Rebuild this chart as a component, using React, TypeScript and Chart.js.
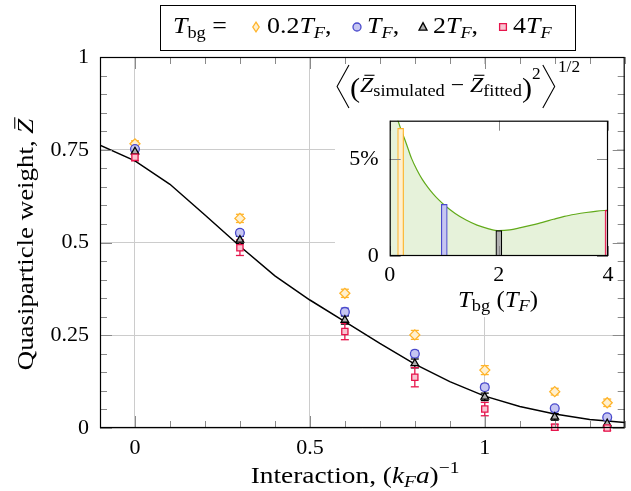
import React, { useEffect, useRef } from "react";
import { Chart, registerables } from "chart.js";
Chart.register(...registerables);

const FF = "'Liberation Serif', 'Times New Roman', serif";

// ---------- main panel data ----------
const interaction = [0, 0.3, 0.6, 0.8, 1.0, 1.2, 1.35];
const zBg02 = [0.766, 0.565, 0.363, 0.251, 0.156, 0.098, 0.068];
const errBg02 = [0.008, 0.011, 0.011, 0.012, 0.012, 0.009, 0.01];
const zBg1 = [0.752, 0.526, 0.313, 0.2, 0.11, 0.053, 0.029];
const errBg1 = [0.007, 0.008, 0.01, 0.009, 0.008, 0.007, 0.007];
const zBg2 = [0.745, 0.507, 0.291, 0.174, 0.084, 0.03, 0.012];
const errBg2 = [0.008, 0.01, 0.011, 0.012, 0.01, 0.009, 0.009];
const zBg4 = [0.73, 0.486, 0.26, 0.137, 0.051, 0.002, 0.0];
const errBg4 = [0.01, 0.021, 0.022, 0.026, 0.018, 0.008, 0.007];

const fitInteraction = [-0.1, 0, 0.1, 0.2, 0.3, 0.4, 0.5, 0.6, 0.7, 0.8, 0.9, 1.0, 1.1, 1.2, 1.3, 1.4];
const fitZ = [0.762, 0.72, 0.657, 0.574, 0.49, 0.41, 0.345, 0.287, 0.228, 0.172, 0.125, 0.086, 0.058, 0.038, 0.023, 0.015];

const xTickValues = [0, 0.5, 1];
const xTickLabels = ["0", "0.5", "1"];
const yTickValues = [0, 0.25, 0.5, 0.75, 1];
const yTickLabels = ["0", "0.25", "0.5", "0.75", "1"];

const tbgLegendLabels = ["0.2", "", "2", "4"];

// ---------- inset data ----------
const tbg = [0, 0.1, 0.2, 0.3, 0.4, 0.5, 0.6, 0.7, 0.8, 0.9, 1.0, 1.2, 1.4, 1.6, 1.8, 2.0, 2.2, 2.4, 2.6, 2.8, 3.0, 3.2, 3.4, 3.6, 3.8, 4.0];
const rmsPercent = [8.3, 7.45, 6.6, 5.85, 5.05, 4.45, 3.95, 3.55, 3.2, 2.9, 2.64, 2.2, 1.86, 1.6, 1.42, 1.31, 1.35, 1.47, 1.6, 1.74, 1.9, 2.05, 2.16, 2.25, 2.32, 2.37];
const barTbg = [0.2, 1, 2, 4];
const barRms = [6.6, 2.67, 1.31, 2.36];
const insetXTicks = [0, 2, 4];
const insetXLabels = ["0", "2", "4"];
const insetYTicks = [0, 5];
const insetYLabels = ["0", "5%"];

const C = {
  orange: { line: "#ffb42a", fill: "#fff0cf" },
  blue: { line: "#4a4acc", fill: "#c6c6f2" },
  black: { line: "#000000", fill: "#b0b0b0" },
  red: { line: "#e6154c", fill: "#f9c3d1" },
};

const series = [
  { ys: zBg02, errs: errBg02, style: "rectRot", c: C.orange, order: 4 },
  { ys: zBg1, errs: errBg1, style: "circle", c: C.blue, order: 3 },
  { ys: zBg2, errs: errBg2, style: "triangle", c: C.black, order: 2 },
  { ys: zBg4, errs: errBg4, style: "rect", c: C.red, order: 1 },
];

type Part = { t?: string; it?: boolean; sz?: number; dy?: number; bar?: boolean; w?: number; fn?: (ctx: CanvasRenderingContext2D, x: number, dy: number) => void };

function partFont(p: Part, base: number) {
  return `${p.it ? "italic " : ""}${p.sz ?? base}px ${FF}`;
}
function measureParts(ctx: CanvasRenderingContext2D, parts: Part[], base: number) {
  let w = 0;
  for (const p of parts) {
    if (p.fn) w += p.w || 0;
    else {
      ctx.font = partFont(p, base);
      w += ctx.measureText(p.t || "").width;
    }
  }
  return w;
}
function drawRich(ctx: CanvasRenderingContext2D, parts: Part[], x: number, y: number, base: number, align = "left", hs = 1.08) {
  ctx.save();
  const total = measureParts(ctx, parts, base) * hs;
  const sx = align === "center" ? x - total / 2 : align === "right" ? x - total : x;
  ctx.translate(sx, y);
  ctx.scale(hs, 1);
  ctx.fillStyle = "#000";
  ctx.strokeStyle = "#000";
  ctx.textBaseline = "alphabetic";
  ctx.textAlign = "left";
  let cx = 0;
  for (const p of parts) {
    if (p.fn) {
      p.fn(ctx, cx, p.dy ?? 0);
      cx += p.w || 0;
      continue;
    }
    const sz = p.sz ?? base;
    ctx.font = partFont(p, base);
    const w = ctx.measureText(p.t || "").width;
    ctx.fillText(p.t || "", cx, p.dy ?? 0);
    if (p.bar) {
      ctx.lineWidth = 1.1;
      const by = (p.dy ?? 0) - sz * 0.76;
      ctx.beginPath();
      ctx.moveTo(cx + sz * 0.18, by);
      ctx.lineTo(cx + w + sz * 0.05, by);
      ctx.stroke();
    }
    cx += w;
  }
  ctx.restore();
}

function drawMarker(ctx: CanvasRenderingContext2D, kind: string, x: number, y: number, r: number, c: { line: string; fill: string }) {
  ctx.save();
  ctx.beginPath();
  if (kind === "rectRot") {
    ctx.moveTo(x, y - r * 1.2);
    ctx.lineTo(x + r * 0.8, y);
    ctx.lineTo(x, y + r * 1.2);
    ctx.lineTo(x - r * 0.8, y);
    ctx.closePath();
  } else if (kind === "circle") {
    ctx.arc(x, y, r, 0, Math.PI * 2);
  } else if (kind === "triangle") {
    ctx.moveTo(x, y - r * 1.1);
    ctx.lineTo(x + r, y + r * 0.8);
    ctx.lineTo(x - r, y + r * 0.8);
    ctx.closePath();
  } else {
    ctx.rect(x - r * 0.85, y - r * 0.85, r * 1.7, r * 1.7);
  }
  ctx.fillStyle = c.fill;
  ctx.fill();
  ctx.lineWidth = 1.3;
  ctx.strokeStyle = c.line;
  ctx.stroke();
  ctx.restore();
}

function line(ctx: CanvasRenderingContext2D, x1: number, y1: number, x2: number, y2: number) {
  ctx.beginPath();
  ctx.moveTo(x1, y1);
  ctx.lineTo(x2, y2);
  ctx.stroke();
}

const INSET_LEFT = 335;
const INSET_TOP = 57;

const mainPlugin = {
  id: "mainDecor",
  beforeDatasetsDraw(chart: any) {
    const { ctx, scales } = chart;
    const x = scales.x, y = scales.y;
    ctx.save();
    // white backdrop of the inset (covers grid, lies under the data)
    ctx.fillStyle = "#ffffff";
    ctx.fillRect(INSET_LEFT, 64, 282, 253);
    ctx.lineWidth = 1.3;
    for (const s of series) {
      ctx.strokeStyle = s.c.line;
      interaction.forEach((xv, i) => {
        const px = x.getPixelForValue(xv);
        const top = y.getPixelForValue(s.ys[i] + s.errs[i]);
        const bot = y.getPixelForValue(s.ys[i] - s.errs[i]);
        line(ctx, px, top, px, bot);
        line(ctx, px - 4, top, px + 4, top);
        line(ctx, px - 4, bot, px + 4, bot);
      });
    }
    ctx.restore();
  },
  afterDraw(chart: any) {
    const { ctx, chartArea: a, scales } = chart;
    const x = scales.x, y = scales.y;
    ctx.save();
    ctx.strokeStyle = "#8a8a8a";
    ctx.lineWidth = 1;
    for (let i = -1; i <= 14; i++) {
      const px = Math.round(x.getPixelForValue(i / 10)) + 0.5;
      const L = i % 5 === 0 ? 12 : 7;
      line(ctx, px, a.bottom, px, a.bottom - L);
      line(ctx, px, a.top, px, a.top + L);
    }
    for (let i = 0; i <= 20; i++) {
      const py = Math.round(y.getPixelForValue(i / 20)) + 0.5;
      const L = i % 5 === 0 ? 12 : 7;
      line(ctx, a.left, py, a.left + L, py);
      line(ctx, a.right, py, a.right - L, py);
    }
    ctx.strokeStyle = "#000";
    ctx.lineWidth = 1.2;
    ctx.strokeRect(a.left + 0.5, a.top + 0.5, a.right - a.left - 1, a.bottom - a.top - 1);

    // legend
    ctx.lineWidth = 1;
    ctx.strokeRect(160.5, 5.5, 415, 45);
    const base = 24;
    const ly = 33;
    const sub = (t: string, it = false): Part => ({ t, it, sz: 17, dy: 5 });
    drawRich(ctx, [{ t: "T", it: true }, sub("bg"), { t: " = " }], 173, ly, base);
    const groupX = [267, 367, 433, 513];
    const markerX = [256, 357, 423, 503];
    series.forEach((s, i) => {
      drawMarker(ctx, s.style, markerX[i], 27, 4, s.c);
      const parts: Part[] = [];
      if (tbgLegendLabels[i]) parts.push({ t: tbgLegendLabels[i] });
      parts.push({ t: "T", it: true }, sub("F", true));
      if (i < series.length - 1) parts.push({ t: "," });
      drawRich(ctx, parts, groupX[i], ly, base);
    });

    // axis titles
    drawRich(ctx, [
      { t: "Interaction, (" },
      { t: "k", it: true },
      { t: "F", it: true, sz: 17, dy: 4 },
      { t: "a", it: true },
      { t: ")" },
      { t: "\u22121", sz: 17, dy: -10 },
    ], 355, 483, 24, "center", 1.14);

    ctx.save();
    ctx.translate(33, 244.5);
    ctx.rotate(-Math.PI / 2);
    drawRich(ctx, [{ t: "Quasiparticle weight, " }, { t: "Z", it: true, bar: true }], 0, 0, 24, "center", 1.12);
    ctx.restore();
    ctx.restore();
  },
};

const insetPlugin = {
  id: "insetDecor",
  afterDraw(chart: any) {
    const { ctx, chartArea: a, scales } = chart;
    const x = scales.x, y = scales.y;
    ctx.save();
    ctx.strokeStyle = "#8a8a8a";
    ctx.lineWidth = 1;
    for (const v of insetXTicks) {
      const px = Math.round(x.getPixelForValue(v)) + 0.5;
      line(ctx, px, a.bottom, px, a.bottom - 10);
      line(ctx, px, a.top, px, a.top + 10);
    }
    for (const v of insetYTicks) {
      const py = Math.round(y.getPixelForValue(v)) + 0.5;
      line(ctx, a.left, py, a.left + 11, py);
      line(ctx, a.right, py, a.right - 11, py);
    }
    ctx.strokeStyle = "#000";
    ctx.lineWidth = 1.2;
    ctx.strokeRect(a.left + 0.5, a.top + 0.5, a.right - a.left - 1, a.bottom - a.top - 1);

    // x title
    drawRich(ctx, [
      { t: "T", it: true },
      { t: "bg", sz: 17, dy: 4 },
      { t: " (" },
      { t: "T", it: true },
      { t: "F", it: true, sz: 17, dy: 4 },
      { t: ")" },
    ], 498 - INSET_LEFT, 307 - INSET_TOP, 23, "center");

    // inset title
    const bracketL = (c: CanvasRenderingContext2D, bx: number) => {
      c.lineWidth = 1;
      c.beginPath();
      c.moveTo(bx + 12, -27);
      c.lineTo(bx + 1, -5.5);
      c.lineTo(bx + 12, 16);
      c.stroke();
    };
    const bracketR = (c: CanvasRenderingContext2D, bx: number) => {
      c.lineWidth = 1;
      c.beginPath();
      c.moveTo(bx + 2, -27);
      c.lineTo(bx + 13, -5.5);
      c.lineTo(bx + 2, 16);
      c.stroke();
    };
    drawRich(ctx, [
      { fn: bracketL, w: 13 },
      { t: "(", sz: 28, dy: 4.5 },
      { t: "Z", it: true, bar: true },
      { t: "simulated", sz: 17, dy: 4 },
      { t: " \u2212 " },
      { t: "Z", it: true, bar: true },
      { t: "fitted", sz: 17, dy: 4 },
      { t: ")", sz: 28, dy: 4.5 },
      { t: "2", sz: 16, dy: -13 },
      { fn: bracketR, w: 16 },
      { t: "1/2", sz: 16, dy: -20 },
    ], 336 - INSET_LEFT, 92 - INSET_TOP, 22, "left");
    ctx.restore();
  },
};

export default function App() {
  const mainRef = useRef<HTMLCanvasElement>(null);
  const insetRef = useRef<HTMLCanvasElement>(null);

  useEffect(() => {
    const tickFont = { family: FF, size: 22 };
    const main = new Chart(mainRef.current as HTMLCanvasElement, {
      type: "scatter",
      data: {
        datasets: [
          {
            type: "line",
            data: fitInteraction.map((v, i) => ({ x: v, y: fitZ[i] })),
            borderColor: "#000",
            borderWidth: 1.5,
            pointRadius: 0,
            showLine: true,
            fill: false,
            order: 10,
          } as any,
          ...series.map((s) => ({
            data: interaction.map((v, i) => ({ x: v, y: s.ys[i] })),
            pointStyle: s.style,
            pointRadius: s.style === "rectRot" ? 5 : 4.4,
            borderColor: s.c.line,
            backgroundColor: s.c.fill,
            pointBorderWidth: 1.3,
            borderWidth: 1.3,
            showLine: false,
            clip: false,
            order: s.order,
          })),
        ],
      },
      options: {
        animation: false,
        responsive: false,
        devicePixelRatio: 1,
        events: [],
        layout: { padding: { left: 0, right: 1, top: 57, bottom: 0 } },
        plugins: { legend: { display: false }, tooltip: { enabled: false } },
        scales: {
          x: {
            type: "linear",
            min: -0.1,
            max: 1.4,
            afterFit: (s: any) => { s.height = 63; },
            afterBuildTicks: (s: any) => { s.ticks = xTickValues.map((v) => ({ value: v })); },
            ticks: {
              font: tickFont,
              color: "#000",
              padding: 7,
              maxRotation: 0,
              autoSkip: false,
              callback: (v: any) => xTickLabels[xTickValues.indexOf(Number(v))] ?? "",
            },
            grid: { color: "#cccccc", lineWidth: 1, drawTicks: false },
            border: { display: false },
          },
          y: {
            type: "linear",
            min: 0,
            max: 1,
            afterFit: (s: any) => { s.width = 100; },
            afterBuildTicks: (s: any) => { s.ticks = yTickValues.map((v) => ({ value: v })); },
            ticks: {
              font: tickFont,
              color: "#000",
              padding: 11,
              autoSkip: false,
              callback: (v: any) => yTickLabels[yTickValues.indexOf(Number(v))] ?? "",
            },
            grid: { color: "#cccccc", lineWidth: 1, drawTicks: false },
            border: { display: false },
          },
        },
      } as any,
      plugins: [mainPlugin],
    });

    const inset = new Chart(insetRef.current as HTMLCanvasElement, {
      type: "scatter",
      data: {
        datasets: [
          {
            type: "bar",
            data: barTbg.map((v, i) => ({ x: v, y: barRms[i] })),
            backgroundColor: [C.orange.fill, C.blue.fill, C.black.fill, C.red.fill],
            borderColor: [C.orange.line, C.blue.line, C.black.line, C.red.line],
            borderWidth: 1.2,
            borderSkipped: false,
            barThickness: 6,
            order: 0,
          } as any,
          {
            type: "line",
            data: tbg.map((v, i) => ({ x: v, y: rmsPercent[i] })),
            borderColor: "#62aa1a",
            borderWidth: 1.2,
            backgroundColor: "#e6f2da",
            fill: "origin",
            pointRadius: 0,
            showLine: true,
            cubicInterpolationMode: "monotone",
            order: 1,
          } as any,
        ],
      },
      options: {
        animation: false,
        responsive: false,
        devicePixelRatio: 1,
        events: [],
        layout: { padding: { left: 0, right: 22, top: 63.7, bottom: 0 } },
        plugins: { legend: { display: false }, tooltip: { enabled: false } },
        scales: {
          x: {
            type: "linear",
            min: 0,
            max: 4,
            offset: false,
            afterFit: (s: any) => { s.height = 61; },
            afterBuildTicks: (s: any) => { s.ticks = insetXTicks.map((v) => ({ value: v })); },
            ticks: {
              font: tickFont,
              color: "#000",
              padding: 6,
              maxRotation: 0,
              autoSkip: false,
              callback: (v: any) => insetXLabels[insetXTicks.indexOf(Number(v))] ?? "",
            },
            grid: { display: false, drawTicks: false },
            border: { display: false },
          },
          y: {
            type: "linear",
            min: 0,
            max: 7,
            afterFit: (s: any) => { s.width = 54.7; },
            afterBuildTicks: (s: any) => { s.ticks = insetYTicks.map((v) => ({ value: v })); },
            ticks: {
              font: tickFont,
              color: "#000",
              padding: 11,
              autoSkip: false,
              callback: (v: any) => insetYLabels[insetYTicks.indexOf(Number(v))] ?? "",
            },
            grid: { display: false, drawTicks: false },
            border: { display: false },
          },
        },
      } as any,
      plugins: [insetPlugin],
    });

    return () => {
      main.destroy();
      inset.destroy();
    };
  }, []);

  return (
    <div style={{ position: "fixed", left: 0, top: 0, width: 631, height: 491, background: "#fff" }}>
      <canvas ref={mainRef} width={631} height={491} style={{ position: "absolute", left: 0, top: 0, width: 631, height: 491 }} />
      <canvas ref={insetRef} width={295} height={260} style={{ position: "absolute", left: INSET_LEFT, top: INSET_TOP, width: 295, height: 260 }} />
    </div>
  );
}
